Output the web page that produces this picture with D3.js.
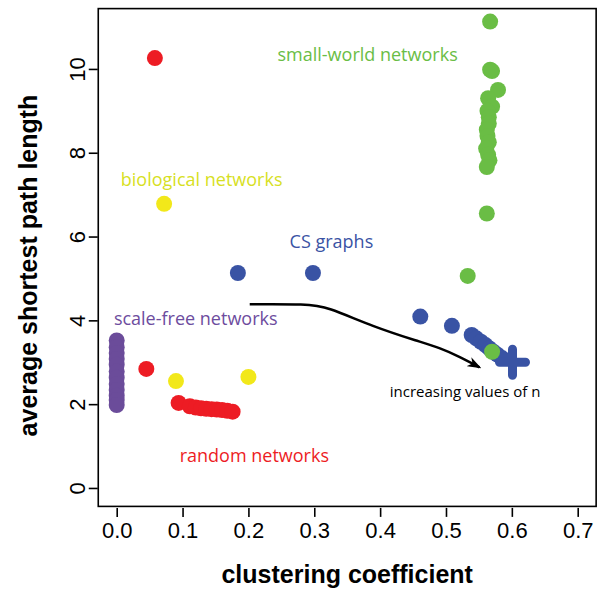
<!DOCTYPE html>
<html>
<head>
<meta charset="utf-8">
<script src="https://cdn.jsdelivr.net/npm/d3@7"></script>
<style>
  body { margin: 0; background: #fff; }
  svg text { font-family: "Liberation Sans", Arial, sans-serif; }
  .note { font-family: "Open Sans", "Noto Sans", sans-serif; }
</style>
</head>
<body>
<div id="chart"></div>
<script>
// data: [clustering coefficient, average shortest path length]
var scale_free = [
  [0, 3.52], [0, 3.36], [0, 3.22], [0, 3.08], [0, 2.94], [0, 2.78],
  [0, 2.63], [0, 2.48], [0, 2.34], [0, 2.2], [0, 2.1], [0, 1.98]
];
var random_nets = [
  [0.058, 10.26], [0.045, 2.84], [0.094, 2.03], [0.111, 1.95],
  [0.12, 1.92], [0.128, 1.9], [0.136, 1.89], [0.144, 1.88],
  [0.152, 1.87], [0.16, 1.86], [0.168, 1.84], [0.176, 1.82]
];
var biological = [
  [0.072, 6.78], [0.09, 2.55], [0.2, 2.65]
];
var cs_graphs = [
  [0.184, 5.13], [0.298, 5.13], [0.461, 4.09], [0.509, 3.87],
  [0.539, 3.65], [0.546, 3.57], [0.553, 3.49], [0.56, 3.41],
  [0.566, 3.33], [0.572, 3.25], [0.578, 3.18], [0.585, 3.1]
];
var cs_big = [[0.601, 3.0]];
var small_world = [
  [0.567, 11.13], [0.567, 9.98], [0.570, 9.95], [0.579, 9.5],
  [0.564, 9.3], [0.570, 9.1], [0.563, 9.0], [0.565, 8.85],
  [0.565, 8.7], [0.562, 8.55], [0.563, 8.4], [0.565, 8.25],
  [0.561, 8.1], [0.564, 7.95], [0.566, 7.82], [0.562, 7.66],
  [0.562, 6.55], [0.533, 5.06], [0.570, 3.25]
];
var x_ticks = [0, 0.1, 0.2, 0.3, 0.4, 0.5, 0.6, 0.7];
var y_ticks = [0, 2, 4, 6, 8, 10];
var notes = [
  { text: 'small-world networks', x: 0.381, y: 10.19, color: '#6abd45' },
  { text: 'biological networks', x: 0.129, y: 7.21, color: '#d7df23' },
  { text: 'CS graphs', x: 0.326, y: 5.73, color: '#3a53a4' },
  { text: 'scale-free networks', x: 0.12, y: 3.89, color: '#6d4c9e' },
  { text: 'random networks', x: 0.209, y: 0.62, color: '#ed1c24' }
];
var arrow_path = [
  [0.202, 4.384], [0.289, 4.39], [0.319, 4.327], [0.389, 3.85],
  [0.46, 3.49], [0.491, 3.34], [0.521, 3.13], [0.551, 2.88]
];

var chart_width = 602;
var chart_height = 590;

var svg = d3.select('#chart')
  .append('svg')
  .attr('width', chart_width)
  .attr('height', chart_height);

// scales (R style: 4% extension beyond the limits)
var x_scale = d3.scaleLinear()
  .domain([-0.028, 0.728])
  .range([98.26, 596.14]);

var y_scale = d3.scaleLinear()
  .domain([-0.44, 11.44])
  .range([506.4, 8.6]);

// box
svg.append('rect')
  .attr('x', x_scale.range()[0])
  .attr('y', y_scale.range()[1])
  .attr('width', x_scale.range()[1] - x_scale.range()[0])
  .attr('height', y_scale.range()[0] - y_scale.range()[1])
  .attr('fill', 'none')
  .attr('stroke', '#000')
  .attr('stroke-width', 1.6);

// axes
var x_axis = d3.axisBottom(x_scale)
  .tickValues(x_ticks)
  .tickFormat(d3.format('.1f'))
  .tickSize(9)
  .tickPadding(5);

var y_axis = d3.axisLeft(y_scale)
  .tickValues(y_ticks)
  .tickFormat(d3.format('d'))
  .tickSize(9);

var gx = svg.append('g')
  .attr('transform', 'translate(0,' + (y_scale.range()[0] + 1.5) + ')')
  .call(x_axis);
gx.select('.domain').remove();
gx.selectAll('line').attr('stroke-width', 1.6);
gx.selectAll('text')
  .attr('font-size', 22)
  .attr('font-family', '"Liberation Sans", Arial, sans-serif')
  .attr('fill', '#000');

var gy = svg.append('g')
  .attr('transform', 'translate(' + (x_scale.range()[0] - 0.5) + ',0)')
  .call(y_axis);
gy.select('.domain').remove();
gy.selectAll('line').attr('stroke-width', 1.6);
gy.selectAll('text')
  .attr('font-size', 22)
  .attr('font-family', '"Liberation Sans", Arial, sans-serif')
  .attr('fill', '#000')
  .attr('x', null)
  .attr('dy', null)
  .attr('text-anchor', 'middle')
  .attr('transform', 'translate(-13,0) rotate(-90)');

// axis titles
svg.append('text')
  .attr('x', (x_scale.range()[0] + x_scale.range()[1]) / 2)
  .attr('y', 583)
  .attr('text-anchor', 'middle')
  .attr('font-size', 25)
  .attr('font-weight', 'bold')
  .text('clustering coefficient');

svg.append('text')
  .attr('transform', 'translate(37,' + ((y_scale.range()[0] + y_scale.range()[1]) / 2 + 8) + ') rotate(-90)')
  .attr('text-anchor', 'middle')
  .attr('font-size', 25)
  .attr('font-weight', 'bold')
  .text('average shortest path length');

// points
function draw_points(pts, color) {
  svg.append('g')
    .selectAll('circle')
    .data(pts)
    .enter()
    .append('circle')
    .attr('cx', function(d) { return x_scale(d[0]); })
    .attr('cy', function(d) { return y_scale(d[1]); })
    .attr('r', 8)
    .attr('fill', color);
}

draw_points(scale_free, '#6b4c9a');
draw_points(random_nets, '#ed1c24');
draw_points(biological, '#f2e81a');
draw_points(cs_graphs, '#3953a4');

// big blue cross
svg.append('g')
  .selectAll('path')
  .data(cs_big)
  .enter()
  .append('path')
  .attr('d', function(d) {
    var cx = x_scale(d[0]), cy = y_scale(d[1]);
    return 'M' + (cx - 13) + ',' + cy + 'H' + (cx + 13) +
           'M' + cx + ',' + (cy - 13) + 'V' + (cy + 13);
  })
  .attr('stroke', '#3953a4')
  .attr('stroke-width', 9)
  .attr('stroke-linecap', 'round')
  .attr('fill', 'none');

draw_points(small_world, '#6abd45');

// group labels
svg.append('g')
  .selectAll('text')
  .data(notes)
  .enter()
  .append('text')
  .attr('class', 'note')
  .attr('x', function(d) { return x_scale(d.x); })
  .attr('y', function(d) { return y_scale(d.y); })
  .attr('text-anchor', 'middle')
  .attr('font-size', 18)
  .attr('fill', function(d) { return d.color; })
  .text(function(d) { return d.text; });

// arrow
svg.append('defs')
  .append('marker')
  .attr('id', 'head')
  .attr('viewBox', '0 0 14 10')
  .attr('refX', 12)
  .attr('refY', 5)
  .attr('markerWidth', 14)
  .attr('markerHeight', 10)
  .attr('markerUnits', 'userSpaceOnUse')
  .attr('orient', 'auto')
  .append('path')
  .attr('d', 'M0,0 L14,5 L0,10 L4,5 Z')
  .attr('fill', '#000');

var line = d3.line()
  .x(function(d) { return x_scale(d[0]); })
  .y(function(d) { return y_scale(d[1]); })
  .curve(d3.curveBasis);

svg.append('path')
  .datum(arrow_path)
  .attr('d', line)
  .attr('fill', 'none')
  .attr('stroke', '#000')
  .attr('stroke-width', 2.5)
  .attr('marker-end', 'url(#head)');

svg.append('text')
  .attr('class', 'note')
  .attr('x', x_scale(0.529))
  .attr('y', y_scale(2.17))
  .attr('text-anchor', 'middle')
  .attr('font-size', 15)
  .attr('fill', '#000')
  .text('increasing values of n');
</script>
</body>
</html>
